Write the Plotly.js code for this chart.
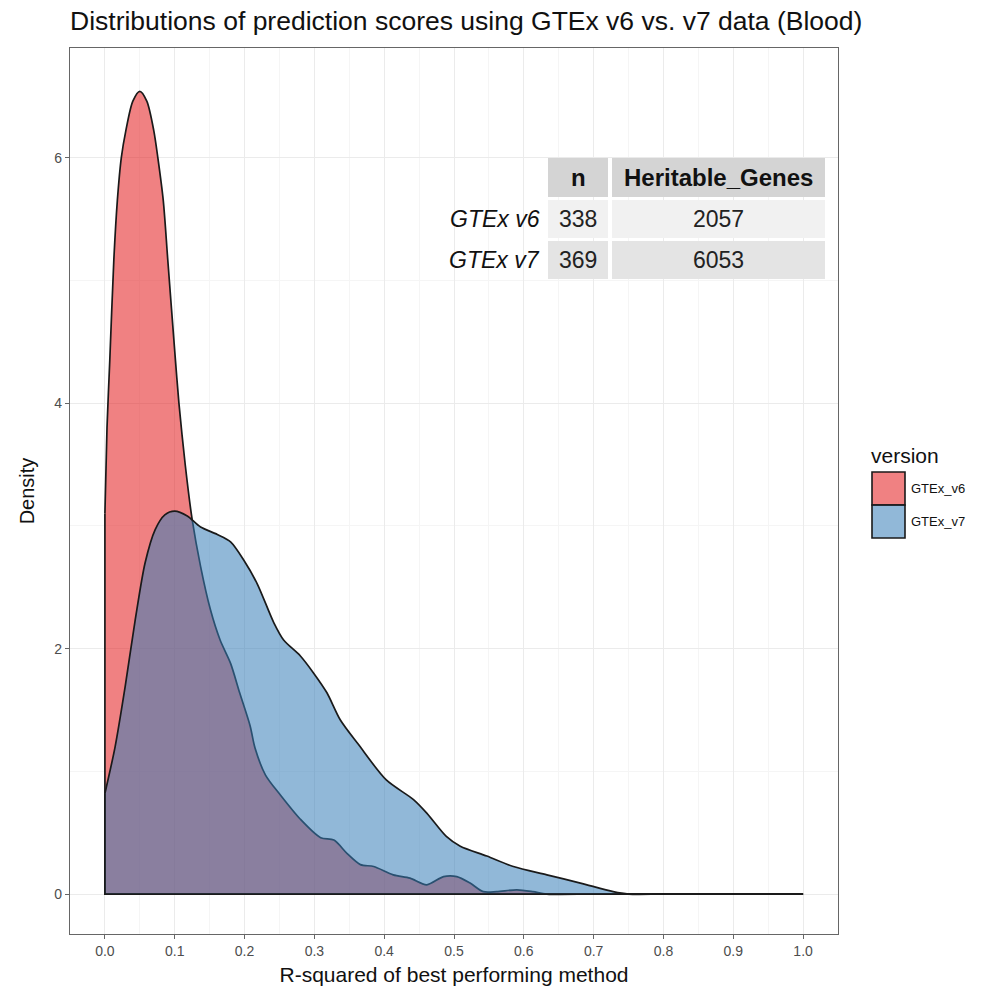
<!DOCTYPE html>
<html>
<head>
<meta charset="utf-8">
<script src="https://cdn.plot.ly/plotly-3.0.1.min.js"></script>
<style>html,body{margin:0;padding:0;background:#fff;}#chart{width:986px;height:992px;}</style>
</head>
<body>
<div id="chart"></div>
<script>
// ---- data ----
const seriesNames = ["GTEx_v6", "GTEx_v7"];
const v6X = [0, 0.003, 0.007, 0.0128, 0.0178, 0.0235, 0.03, 0.04, 0.05, 0.06, 0.07, 0.0758, 0.0836, 0.090, 0.101, 0.106, 0.115, 0.125, 0.137, 0.151, 0.165, 0.18, 0.193, 0.208, 0.215, 0.23, 0.251, 0.28, 0.309, 0.328, 0.347, 0.366, 0.385, 0.413, 0.437, 0.461, 0.485, 0.504, 0.523, 0.542, 0.561, 0.59, 0.613, 0.633, 0.7, 0.8, 0.9, 1.0];
const v6Y = [3.1, 3.8, 4.35, 5.17, 5.65, 6.0, 6.22, 6.46, 6.54, 6.46, 6.22, 6.0, 5.65, 5.17, 4.35, 4.0, 3.5, 3.05, 2.67, 2.32, 2.07, 1.88, 1.64, 1.37, 1.19, 0.97, 0.81, 0.61, 0.46, 0.44, 0.33, 0.24, 0.225, 0.157, 0.13, 0.076, 0.143, 0.143, 0.09, 0.02, 0.02, 0.035, 0.02, 0.0, 0, 0, 0, 0];
const v7X = [0, 0.0146, 0.029, 0.0433, 0.0576, 0.072, 0.0858, 0.1, 0.118, 0.137, 0.161, 0.18, 0.199, 0.218, 0.242, 0.256, 0.28, 0.299, 0.318, 0.337, 0.363, 0.403, 0.442, 0.461, 0.489, 0.509, 0.547, 0.585, 0.633, 0.681, 0.728, 0.75, 0.8, 0.9, 1.0];
const v7Y = [0.82, 1.20, 1.69, 2.23, 2.70, 2.97, 3.09, 3.12, 3.08, 2.99, 2.93, 2.87, 2.72, 2.53, 2.21, 2.07, 1.94, 1.80, 1.64, 1.42, 1.22, 0.93, 0.77, 0.66, 0.47, 0.39, 0.31, 0.225, 0.157, 0.09, 0.02, 0, 0, 0, 0];

// summary table
const tableRowLabels = ["GTEx v6", "GTEx v7"];
const tableColHeads = ["n", "Heritable_Genes"];
const tableN = [338, 369];
const tableGenes = [2057, 6053];

const xTickVals = [0, 0.1, 0.2, 0.3, 0.4, 0.5, 0.6, 0.7, 0.8, 0.9, 1.0];
const yTickVals = [0, 2, 4, 6];

// ---- styles ----
const fills = ["rgba(228,26,28,0.55)", "rgba(55,126,184,0.55)"];
const LINE = "#1a1a1a";
const FONT = "Liberation Sans, Arial, sans-serif";

// plot area in pixels
const L = 70, R = 838, T = 48, B = 934;
const px = X => (X - L) / (R - L);
const py = Y => (B - Y) / (B - T);

function densityTraces(xs, ys, fill, name) {
  const n = xs.length;
  return [
    {x: xs, y: ys, type: "scatter", mode: "lines", fill: "tozeroy", fillcolor: fill,
     line: {color: LINE, width: 1.7, shape: "spline", smoothing: 0.8}, name, showlegend: false, hoverinfo: "skip"},
    // outline of the polygon base: left edge and baseline
    {x: [xs[0], xs[0], xs[n - 1]], y: [ys[0], 0, ys[n - 1]], type: "scatter", mode: "lines",
     line: {color: LINE, width: 1.7}, showlegend: false, hoverinfo: "skip"}
  ];
}

const traces = [].concat(
  densityTraces(v6X, v6Y, fills[0], seriesNames[0]),
  densityTraces(v7X, v7Y, fills[1], seriesNames[1])
);

const shapes = [];
const annotations = [];

// table cells
const colX = [[548, 608], [612, 825]];
const rowY = [[158, 197], [200, 238], [241, 279]];
const rowFill = ["#D4D4D4", "#F1F1F1", "#E4E4E4"];
for (let r = 0; r < 3; r++) {
  for (let c = 0; c < 2; c++) {
    shapes.push({type: "rect", xref: "paper", yref: "paper",
      x0: px(colX[c][0]), x1: px(colX[c][1]), y0: py(rowY[r][1]), y1: py(rowY[r][0]),
      fillcolor: rowFill[r], line: {width: 0}, layer: "above"});
  }
}
const cx = c => px((colX[c][0] + colX[c][1]) / 2);
const cy = r => py((rowY[r][0] + rowY[r][1]) / 2);
tableColHeads.forEach((h, c) => annotations.push({xref: "paper", yref: "paper", x: cx(c), y: cy(0),
  text: "<b>" + h + "</b>", showarrow: false, xanchor: "center", yanchor: "middle",
  font: {family: FONT, size: 24, color: "#111"}}));
tableRowLabels.forEach((lab, r) => {
  annotations.push({xref: "paper", yref: "paper", x: px(542), y: cy(r + 1), text: "<i>" + lab + "</i>",
    showarrow: false, xanchor: "right", yanchor: "middle", font: {family: FONT, size: 23, color: "#111"}});
  annotations.push({xref: "paper", yref: "paper", x: cx(0), y: cy(r + 1), text: String(tableN[r]),
    showarrow: false, xanchor: "center", yanchor: "middle", font: {family: FONT, size: 23, color: "#222"}});
  annotations.push({xref: "paper", yref: "paper", x: cx(1), y: cy(r + 1), text: String(tableGenes[r]),
    showarrow: false, xanchor: "center", yanchor: "middle", font: {family: FONT, size: 23, color: "#222"}});
});

// legend (drawn manually to match ggplot key size)
annotations.push({xref: "paper", yref: "paper", x: px(869), y: py(455), text: "version", showarrow: false,
  xanchor: "left", yanchor: "middle", font: {family: FONT, size: 21, color: "#111"}});
const keyY = [[472, 505], [505, 538]];
seriesNames.forEach((nm, i) => {
  shapes.push({type: "rect", xref: "paper", yref: "paper", x0: px(872), x1: px(905),
    y0: py(keyY[i][1]), y1: py(keyY[i][0]), fillcolor: fills[i], line: {color: LINE, width: 1.6}});
  annotations.push({xref: "paper", yref: "paper", x: px(909), y: py((keyY[i][0] + keyY[i][1]) / 2), text: nm,
    showarrow: false, xanchor: "left", yanchor: "middle", font: {family: FONT, size: 13, color: "#111"}});
});

const layout = {
  width: 986, height: 992,
  margin: {l: L, r: 986 - R, t: T, b: 992 - B, pad: 0},
  paper_bgcolor: "#fff", plot_bgcolor: "#fff",
  font: {family: FONT, color: "#111"},
  title: {text: "Distributions of prediction scores using GTEx v6 vs. v7 data (Blood)",
    font: {family: FONT, size: 26.5, color: "#111"}, xref: "paper", x: 0, xanchor: "left",
    yref: "container", y: 1 - 21 / 992, yanchor: "middle"},
  xaxis: {range: [-0.05, 1.05], tickvals: xTickVals, tickformat: ".1f", showgrid: true, gridcolor: "#EBEBEB", gridwidth: 1,
    minor: {dtick: 0.05, tick0: 0, showgrid: true, gridcolor: "#F5F5F5", gridwidth: 1},
    zeroline: false, showline: true, mirror: true, linecolor: "#666", linewidth: 1.2,
    ticks: "outside", ticklen: 4, tickcolor: "#666", tickwidth: 1,
    tickfont: {family: FONT, size: 14, color: "#4D4D4D"},
    title: {text: "R-squared of best performing method", font: {family: FONT, size: 21, color: "#111"}, standoff: 9}},
  yaxis: {range: [-0.325, 6.893], tickvals: yTickVals, showgrid: true, gridcolor: "#EBEBEB", gridwidth: 1,
    minor: {dtick: 1, tick0: 0, showgrid: true, gridcolor: "#F5F5F5", gridwidth: 1},
    zeroline: false, showline: true, mirror: true, linecolor: "#666", linewidth: 1.2,
    ticks: "outside", ticklen: 4, tickcolor: "#666", tickwidth: 1,
    tickfont: {family: FONT, size: 14, color: "#4D4D4D"},
    title: {text: "Density", font: {family: FONT, size: 20, color: "#111"}, standoff: 14}},
  shapes, annotations,
  showlegend: false
};

Plotly.newPlot("chart", traces, layout, {displayModeBar: false, staticPlot: true});
</script>
</body>
</html>
